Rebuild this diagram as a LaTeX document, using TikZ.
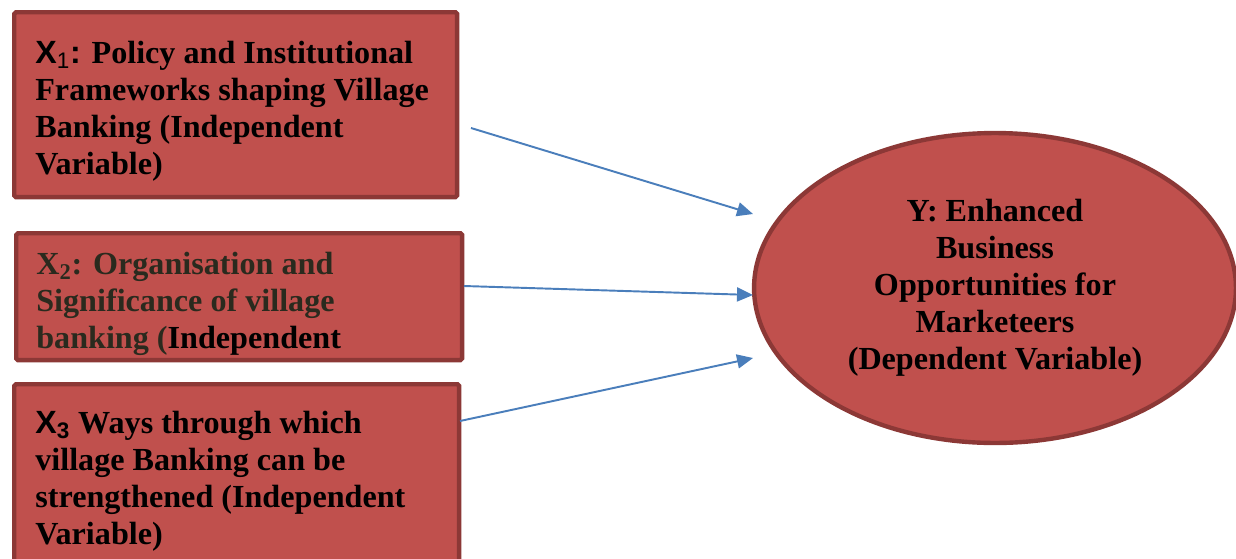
\documentclass[tikz,border=0pt]{standalone}
\usepackage{fontspec}
\setmainfont{Liberation Serif}
\newfontfamily\sansx{Liberation Sans}
\usetikzlibrary{arrows.meta,shapes.geometric}
\definecolor{boxfill}{HTML}{C0504D}
\definecolor{boxline}{HTML}{8C3836}
\definecolor{arrowblue}{HTML}{4A7EBB}
\definecolor{greytext}{HTML}{2A2A1E}
\tikzset{
  varbox/.style={draw=boxline, fill=boxfill, line width=2.5pt, rounded corners=1pt, inner sep=0pt, anchor=north west},
  vartext/.style={anchor=north west, align=left, inner sep=0pt},
  link/.style={draw=arrowblue, line width=1.1pt, -{Triangle[length=0.32cm,width=0.28cm]}}
}
\begin{document}
\begin{tikzpicture}[x=0.02cm, y=-0.02cm, font=\fontsize{18.3}{21}\selectfont\bfseries]
	\useasboundingbox (0,0) rectangle (1236,558);
	% independent variables
	\node[varbox, minimum width=8.86cm, minimum height=3.7cm] (x1) at (12,10) {};
	\node[varbox, minimum width=8.92cm, minimum height=2.54cm] (x2) at (14,231) {};
	\node[varbox, minimum width=8.9cm, minimum height=4.36cm] (x3) at (12,382) {};
	\node[vartext] (x1t) at (35,41) {{\sansx X\textsubscript{\mdseries 1}:} Policy and Institutional\\Frameworks shaping Village\\Banking (Independent\\Variable)};
	\node[vartext, text=greytext] (x2t) at (36,252) {X\textsubscript{2}: Organisation and\\Significance of village\\banking (\textcolor{black}{Independent}};
	\node[vartext] (x3t) at (35,411) {{\sansx X\textsubscript{3}} Ways through which\\village Banking can be\\strengthened (Independent\\Variable)};
	% dependent variable
	\node[ellipse, draw=boxline, fill=boxfill, line width=2.5pt, minimum width=9.64cm, minimum height=6.2cm, align=center] (y) at (995,288) {Y: Enhanced\\Business\\Opportunities for\\Marketeers\\(Dependent Variable)};
	% links
	\coordinate (a1s) at (471,128);
	\coordinate (a1e) at (753,214);
	\coordinate (a2s) at (464,286);
	\coordinate (a2e) at (753,295);
	\coordinate (a3s) at (460,421);
	\coordinate (a3e) at (753,358);
	\draw[link] (a1s) -- (a1e);
	\draw[link] (a2s) -- (a2e);
	\draw[link] (a3s) -- (a3e);
\end{tikzpicture}
\end{document}
